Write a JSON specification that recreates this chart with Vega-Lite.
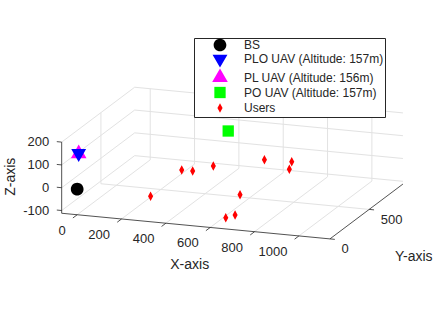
{
  "$schema": "https://vega.github.io/schema/vega-lite/v6.json",
  "width": 447,
  "height": 336,
  "autosize": {"type": "none"},
  "padding": 0,
  "background": "white",
  "config": {
    "view": {"stroke": null},
    "font": "Liberation Sans",
    "legend": {
      "padding": 1,
      "symbolOffset": 18,
      "labelOffset": 17,
      "rowPadding": 0,
      "strokeColor": "#262626",
      "fillColor": "#ffffff",
      "labelFont": "Liberation Sans",
      "labelFontSize": 12,
      "labelColor": "#262626",
      "symbolSize": 100,
      "symbolStrokeWidth": 0,
      "labelLimit": 300,
      "cornerRadius": 0
    }
  },
  "datasets": {
    "grid": [
      {"x1": 0, "y1": 0, "z1": -112, "x2": 0, "y2": 930, "z2": -112},
      {"x1": 200, "y1": 0, "z1": -112, "x2": 200, "y2": 930, "z2": -112},
      {"x1": 400, "y1": 0, "z1": -112, "x2": 400, "y2": 930, "z2": -112},
      {"x1": 600, "y1": 0, "z1": -112, "x2": 600, "y2": 930, "z2": -112},
      {"x1": 800, "y1": 0, "z1": -112, "x2": 800, "y2": 930, "z2": -112},
      {"x1": 1000, "y1": 0, "z1": -112, "x2": 1000, "y2": 930, "z2": -112},
      {"x1": -70, "y1": 500, "z1": -112, "x2": 1140, "y2": 500, "z2": -112},
      {"x1": 0, "y1": 930, "z1": -112, "x2": 0, "y2": 930, "z2": 200},
      {"x1": 200, "y1": 930, "z1": -112, "x2": 200, "y2": 930, "z2": 200},
      {"x1": 400, "y1": 930, "z1": -112, "x2": 400, "y2": 930, "z2": 200},
      {"x1": 600, "y1": 930, "z1": -112, "x2": 600, "y2": 930, "z2": 200},
      {"x1": 800, "y1": 930, "z1": -112, "x2": 800, "y2": 930, "z2": 200},
      {"x1": 1000, "y1": 930, "z1": -112, "x2": 1000, "y2": 930, "z2": 200},
      {"x1": -70, "y1": 930, "z1": -100, "x2": 1140, "y2": 930, "z2": -100},
      {"x1": -70, "y1": 930, "z1": 0, "x2": 1140, "y2": 930, "z2": 0},
      {"x1": -70, "y1": 930, "z1": 100, "x2": 1140, "y2": 930, "z2": 100},
      {"x1": -70, "y1": 930, "z1": 200, "x2": 1140, "y2": 930, "z2": 200},
      {"x1": -70, "y1": 500, "z1": -112, "x2": -70, "y2": 500, "z2": 200},
      {"x1": -70, "y1": 0, "z1": -100, "x2": -70, "y2": 930, "z2": -100},
      {"x1": -70, "y1": 0, "z1": 0, "x2": -70, "y2": 930, "z2": 0},
      {"x1": -70, "y1": 0, "z1": 100, "x2": -70, "y2": 930, "z2": 100},
      {"x1": -70, "y1": 0, "z1": 200, "x2": -70, "y2": 930, "z2": 200}
    ],
    "axes": [
      {"x1": -70, "y1": 0, "z1": -112, "x2": 1140, "y2": 0, "z2": -112},
      {"x1": 1140, "y1": 0, "z1": -112, "x2": 1140, "y2": 930, "z2": -112},
      {"x1": -70, "y1": 0, "z1": -112, "x2": -70, "y2": 0, "z2": 200},
      {"x1": 0, "y1": 0, "z1": -112, "x2": 0, "y2": -55, "z2": -112},
      {"x1": 200, "y1": 0, "z1": -112, "x2": 200, "y2": -55, "z2": -112},
      {"x1": 400, "y1": 0, "z1": -112, "x2": 400, "y2": -55, "z2": -112},
      {"x1": 600, "y1": 0, "z1": -112, "x2": 600, "y2": -55, "z2": -112},
      {"x1": 800, "y1": 0, "z1": -112, "x2": 800, "y2": -55, "z2": -112},
      {"x1": 1000, "y1": 0, "z1": -112, "x2": 1000, "y2": -55, "z2": -112},
      {"x1": 1140, "y1": 0, "z1": -112, "x2": 1162, "y2": 0, "z2": -112},
      {"x1": 1140, "y1": 500, "z1": -112, "x2": 1162, "y2": 500, "z2": -112},
      {"x1": -70, "y1": 0, "z1": -100, "x2": -92, "y2": 0, "z2": -100},
      {"x1": -70, "y1": 0, "z1": 0, "x2": -92, "y2": 0, "z2": 0},
      {"x1": -70, "y1": 0, "z1": 100, "x2": -92, "y2": 0, "z2": 100},
      {"x1": -70, "y1": 0, "z1": 200, "x2": -92, "y2": 0, "z2": 200}
    ],
    "labels": [
      {"t": "0", "g": "x", "x": 0, "y": 0, "z": -112},
      {"t": "200", "g": "x", "x": 200, "y": 0, "z": -112},
      {"t": "400", "g": "x", "x": 400, "y": 0, "z": -112},
      {"t": "600", "g": "x", "x": 600, "y": 0, "z": -112},
      {"t": "800", "g": "x", "x": 800, "y": 0, "z": -112},
      {"t": "1000", "g": "x", "x": 1000, "y": 0, "z": -112},
      {"t": "0", "g": "y", "x": 1140, "y": 0, "z": -112},
      {"t": "500", "g": "y", "x": 1140, "y": 500, "z": -112},
      {"t": "-100", "g": "z", "x": -70, "y": 0, "z": -100},
      {"t": "0", "g": "z", "x": -70, "y": 0, "z": 0},
      {"t": "100", "g": "z", "x": -70, "y": 0, "z": 100},
      {"t": "200", "g": "z", "x": -70, "y": 0, "z": 200},
      {"t": "X-axis", "g": "xt", "x": 535, "y": 0, "z": -112},
      {"t": "Y-axis", "g": "yt", "x": 1140, "y": 465, "z": -112},
      {"t": "Z-axis", "g": "zt", "x": -70, "y": 0, "z": 44}
    ],
    "points": [
      {"series": "BS", "x": 0, "y": 0, "z": 0},
      {"series": "PL UAV (Altitude: 156m)", "x": 6, "y": 2, "z": 156},
      {"series": "PLO UAV (Altitude: 157m)", "x": 6, "y": 2, "z": 157},
      {"series": "PO UAV (Altitude: 157m)", "x": 485, "y": 554, "z": 157},
      {"series": "Users", "x": 331, "y": 0, "z": 0},
      {"series": "Users", "x": 316, "y": 439, "z": 0},
      {"series": "Users", "x": 365, "y": 440, "z": 0},
      {"series": "Users", "x": 421, "y": 545, "z": 0},
      {"series": "Users", "x": 592, "y": 713, "z": 0},
      {"series": "Users", "x": 712, "y": 722, "z": 0},
      {"series": "Users", "x": 743, "y": 604, "z": 0},
      {"series": "Users", "x": 681, "y": 151, "z": 0},
      {"series": "Users", "x": 705, "y": 20, "z": -53},
      {"series": "Users", "x": 663, "y": 20, "z": -69}
    ]
  },
  "layer": [
    {
      "data": {"name": "grid"},
      "transform": [
        {"calculate": "77.2 + 0.2217*datum.x1 + 0.0785*datum.y1", "as": "sx1"},
        {"calculate": "189.2 + 0.0212*datum.x1 - 0.059*datum.y1 - 0.228*datum.z1", "as": "sy1"},
        {"calculate": "77.2 + 0.2217*datum.x2 + 0.0785*datum.y2", "as": "sx2"},
        {"calculate": "189.2 + 0.0212*datum.x2 - 0.059*datum.y2 - 0.228*datum.z2", "as": "sy2"}
      ],
      "mark": {"type": "rule", "color": "#e2e2e2", "strokeWidth": 1},
      "encoding": {
        "x": {"field": "sx1", "type": "quantitative", "scale": {"domain": [0, 447], "nice": false, "zero": false}, "axis": null},
        "y": {"field": "sy1", "type": "quantitative", "scale": {"domain": [0, 336], "nice": false, "zero": false, "reverse": true}, "axis": null},
        "x2": {"field": "sx2"},
        "y2": {"field": "sy2"}
      }
    },
    {
      "data": {"name": "axes"},
      "transform": [
        {"calculate": "77.2 + 0.2217*datum.x1 + 0.0785*datum.y1", "as": "sx1"},
        {"calculate": "189.2 + 0.0212*datum.x1 - 0.059*datum.y1 - 0.228*datum.z1", "as": "sy1"},
        {"calculate": "77.2 + 0.2217*datum.x2 + 0.0785*datum.y2", "as": "sx2"},
        {"calculate": "189.2 + 0.0212*datum.x2 - 0.059*datum.y2 - 0.228*datum.z2", "as": "sy2"}
      ],
      "mark": {"type": "rule", "color": "#262626", "strokeWidth": 0.8},
      "encoding": {
        "x": {"field": "sx1", "type": "quantitative", "scale": {"domain": [0, 447], "nice": false, "zero": false}, "axis": null},
        "y": {"field": "sy1", "type": "quantitative", "scale": {"domain": [0, 336], "nice": false, "zero": false, "reverse": true}, "axis": null},
        "x2": {"field": "sx2"},
        "y2": {"field": "sy2"}
      }
    },
    {
      "data": {"name": "labels"},
      "transform": [
        {"filter": "datum.g == 'x'"},
        {"calculate": "77.2 + 0.2217*datum.x + 0.0785*datum.y", "as": "sx"},
        {"calculate": "189.2 + 0.0212*datum.x - 0.059*datum.y - 0.228*datum.z", "as": "sy"}
      ],
      "mark": {"type": "text", "align": "right", "baseline": "middle", "dx": -11.5, "dy": 16, "fontSize": 13, "color": "#262626", "font": "Liberation Sans"},
      "encoding": {
        "x": {"field": "sx", "type": "quantitative", "scale": {"domain": [0, 447], "nice": false, "zero": false}, "axis": null},
        "y": {"field": "sy", "type": "quantitative", "scale": {"domain": [0, 336], "nice": false, "zero": false, "reverse": true}, "axis": null},
        "text": {"field": "t"}
      }
    },
    {
      "data": {"name": "labels"},
      "transform": [
        {"filter": "datum.g == 'y'"},
        {"calculate": "77.2 + 0.2217*datum.x + 0.0785*datum.y", "as": "sx"},
        {"calculate": "189.2 + 0.0212*datum.x - 0.059*datum.y - 0.228*datum.z", "as": "sy"}
      ],
      "mark": {"type": "text", "align": "left", "baseline": "middle", "dx": 11.6, "dy": 10.2, "fontSize": 13, "color": "#262626", "font": "Liberation Sans"},
      "encoding": {
        "x": {"field": "sx", "type": "quantitative", "scale": {"domain": [0, 447], "nice": false, "zero": false}, "axis": null},
        "y": {"field": "sy", "type": "quantitative", "scale": {"domain": [0, 336], "nice": false, "zero": false, "reverse": true}, "axis": null},
        "text": {"field": "t"}
      }
    },
    {
      "data": {"name": "labels"},
      "transform": [
        {"filter": "datum.g == 'z'"},
        {"calculate": "77.2 + 0.2217*datum.x + 0.0785*datum.y", "as": "sx"},
        {"calculate": "189.2 + 0.0212*datum.x - 0.059*datum.y - 0.228*datum.z", "as": "sy"}
      ],
      "mark": {"type": "text", "align": "right", "baseline": "middle", "dx": -12.4, "dy": 0, "fontSize": 13, "color": "#262626", "font": "Liberation Sans"},
      "encoding": {
        "x": {"field": "sx", "type": "quantitative", "scale": {"domain": [0, 447], "nice": false, "zero": false}, "axis": null},
        "y": {"field": "sy", "type": "quantitative", "scale": {"domain": [0, 336], "nice": false, "zero": false, "reverse": true}, "axis": null},
        "text": {"field": "t"}
      }
    },
    {
      "data": {"name": "labels"},
      "transform": [
        {"filter": "datum.g == 'xt'"},
        {"calculate": "77.2 + 0.2217*datum.x + 0.0785*datum.y", "as": "sx"},
        {"calculate": "189.2 + 0.0212*datum.x - 0.059*datum.y - 0.228*datum.z", "as": "sy"}
      ],
      "mark": {"type": "text", "align": "center", "baseline": "middle", "dx": -6.1, "dy": 39, "fontSize": 14, "color": "#262626", "font": "Liberation Sans"},
      "encoding": {
        "x": {"field": "sx", "type": "quantitative", "scale": {"domain": [0, 447], "nice": false, "zero": false}, "axis": null},
        "y": {"field": "sy", "type": "quantitative", "scale": {"domain": [0, 336], "nice": false, "zero": false, "reverse": true}, "axis": null},
        "text": {"field": "t"}
      }
    },
    {
      "data": {"name": "labels"},
      "transform": [
        {"filter": "datum.g == 'yt'"},
        {"calculate": "77.2 + 0.2217*datum.x + 0.0785*datum.y", "as": "sx"},
        {"calculate": "189.2 + 0.0212*datum.x - 0.059*datum.y - 0.228*datum.z", "as": "sy"}
      ],
      "mark": {"type": "text", "align": "center", "baseline": "middle", "dx": 47.3, "dy": 45.2, "fontSize": 14, "color": "#262626", "font": "Liberation Sans"},
      "encoding": {
        "x": {"field": "sx", "type": "quantitative", "scale": {"domain": [0, 447], "nice": false, "zero": false}, "axis": null},
        "y": {"field": "sy", "type": "quantitative", "scale": {"domain": [0, 336], "nice": false, "zero": false, "reverse": true}, "axis": null},
        "text": {"field": "t"}
      }
    },
    {
      "data": {"name": "labels"},
      "transform": [
        {"filter": "datum.g == 'zt'"},
        {"calculate": "77.2 + 0.2217*datum.x + 0.0785*datum.y", "as": "sx"},
        {"calculate": "189.2 + 0.0212*datum.x - 0.059*datum.y - 0.228*datum.z", "as": "sy"}
      ],
      "mark": {"type": "text", "align": "center", "baseline": "middle", "angle": 270, "dx": 1, "dy": -50.7, "fontSize": 14, "color": "#262626", "font": "Liberation Sans"},
      "encoding": {
        "x": {"field": "sx", "type": "quantitative", "scale": {"domain": [0, 447], "nice": false, "zero": false}, "axis": null},
        "y": {"field": "sy", "type": "quantitative", "scale": {"domain": [0, 336], "nice": false, "zero": false, "reverse": true}, "axis": null},
        "text": {"field": "t"}
      }
    },
    {
      "data": {"name": "points"},
      "transform": [
        {"calculate": "77.2 + 0.2217*datum.x + 0.0785*datum.y", "as": "sx"},
        {"calculate": "189.2 + 0.0212*datum.x - 0.059*datum.y - 0.228*datum.z", "as": "sy"}
      ],
      "mark": {"type": "point", "filled": true, "opacity": 1, "strokeWidth": 0},
      "encoding": {
        "x": {"field": "sx", "type": "quantitative", "scale": {"domain": [0, 447], "nice": false, "zero": false}, "axis": null},
        "y": {"field": "sy", "type": "quantitative", "scale": {"domain": [0, 336], "nice": false, "zero": false, "reverse": true}, "axis": null},
        "color": {
          "field": "series", "type": "nominal",
          "scale": {"domain": ["BS", "PLO UAV (Altitude: 157m)", "PL UAV (Altitude: 156m)", "PO UAV (Altitude: 157m)", "Users"], "range": ["#000000", "#0000ff", "#ff00ff", "#00ff00", "#ff0000"]},
          "legend": {"orient": "none", "legendX": 194, "legendY": 38, "title": null, "labelExpr": "datum.label + '    '"}
        },
        "shape": {
          "field": "series", "type": "nominal",
          "scale": {"domain": ["BS", "PLO UAV (Altitude: 157m)", "PL UAV (Altitude: 156m)", "PO UAV (Altitude: 157m)", "Users"], "range": ["M0,-1.1L0,-1.1M0,1.1L0,1.1M1.17,0A1.17,1.17,0,1,1,-1.17,0A1.17,1.17,0,1,1,1.17,0Z", "M0,-1.1L0,-1.1M0,1.1L0,1.1M-1.3,-0.752L1.3,-0.752L0,1.502Z", "M0,-1.1L0,-1.1M0,1.1L0,1.1M-1.3,0.752L1.3,0.752L0,-1.502Z", "M0,-1.1L0,-1.1M0,1.1L0,1.1M-0.9,-0.9L0.9,-0.9L0.9,0.9L-0.9,0.9Z", "M0,-1.1L0,-1.1M0,1.1L0,1.1M0,-0.728L0.392,0L0,0.728L-0.392,0Z"]},
          "legend": {"orient": "none", "legendX": 194, "legendY": 38, "title": null, "labelExpr": "datum.label + '    '"}
        },
        "size": {
          "field": "series", "type": "ordinal",
          "scale": {"domain": ["BS", "PLO UAV (Altitude: 157m)", "PL UAV (Altitude: 156m)", "PO UAV (Altitude: 157m)", "Users"], "range": [118, 171, 236, 150, 153]},
          "legend": null
        }
      }
    }
  ]
}
